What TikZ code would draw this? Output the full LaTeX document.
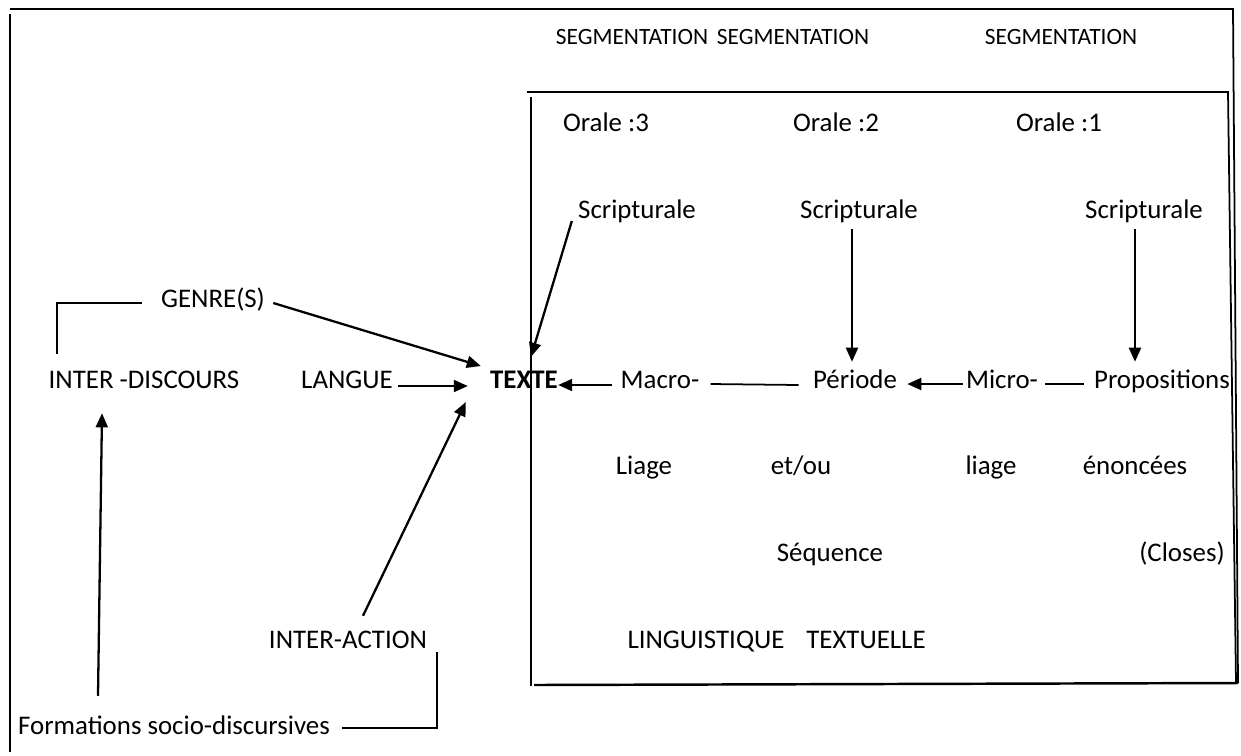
\documentclass[tikz,border=0pt]{standalone}
\usepackage{fontspec}
\setmainfont{Carlito}
\usetikzlibrary{arrows.meta}

\begin{document}
\begin{tikzpicture}[x=0.02cm, y=-0.02cm,
    lbl/.style={font=\fontsize{15.3}{18}\selectfont, inner sep=0pt, text height=0.7em, text depth=0.2em},
    seglbl/.style={lbl, font=\fontsize{13.3}{16}\selectfont},
    arr/.style={line width=1.3pt, -{Triangle[length=8pt,width=6.8pt]}},
    ln/.style={line width=1pt}]
    \useasboundingbox (0,0) rectangle (1241,755);
    \draw[ln] (10,9) -- (1233,9) -- (1238,683);
    \draw[ln] (10,14) -- (10,752);
    \draw[ln] (527,92) -- (1228,92) -- (1236,683);
    \draw[ln] (531,97) -- (531,686);
    \draw[ln, line width=1.4pt] (534,685) -- (1238,683);
    \node[seglbl] (seg1) at (632,40) {SEGMENTATION};
    \node[seglbl] (seg2) at (793,40) {SEGMENTATION};
    \node[seglbl] (seg3) at (1061,40) {SEGMENTATION};
    \node[lbl] (or3) at (606,127) {Orale :3};
    \node[lbl] (or2) at (836,127) {Orale :2};
    \node[lbl] (or1) at (1059,127) {Orale :1};
    \node[lbl] (sc3) at (637,214) {Scripturale};
    \node[lbl] (sc2) at (859,214) {Scripturale};
    \node[lbl] (sc1) at (1144,214) {Scripturale};
    \node[lbl] (genre) at (213,303) {GENRE(S)};
    \node[lbl] (interdisc) at (144,384) {INTER -DISCOURS};
    \node[lbl] (langue) at (347,384) {LANGUE};
    \node[lbl, font=\fontsize{15.3}{18}\selectfont\bfseries] (texte) at (524,384) {TEXTE};
    \node[lbl] (macro) at (660,384) {Macro-};
    \node[lbl] (periode) at (855,384) {Période};
    \node[lbl] (micro) at (1002,384) {Micro-};
    \node[lbl] (props) at (1162,384) {Propositions};
    \node[lbl] (liage) at (644,470) {Liage};
    \node[lbl] (etou) at (801,470) {et/ou};
    \node[lbl] (liage2) at (991,470) {liage};
    \node[lbl] (enonc) at (1135,470) {énoncées};
    \node[lbl] (seq) at (830,557) {Séquence};
    \node[lbl] (closes) at (1182,557) {(Closes)};
    \node[lbl] (interact) at (348,644) {INTER-ACTION};
    \node[lbl] (ling) at (706,644) {LINGUISTIQUE};
    \node[lbl] (textu) at (866,644) {TEXTUELLE};
    \node[lbl] (forma) at (174,730) {Formations socio-discursives};
    \draw[arr] ([shift={(8,0)}]genre.east) -- ([shift={(-9,-18)}]texte.west);
    \draw[arr] ([shift={(5,2)}]langue.east) -- ([shift={(-22,2)}]texte.west);
    \draw[arr] ([shift={(15,-20)}]interact.north) -- ([shift={(-24,18)}]texte.west);
    \draw[arr] ([shift={(-6,7)}]sc3.west) -- ([shift={(7,-19)}]texte.north);
    \draw[arr] ([shift={(-8,1)}]macro.west) -- ([shift={(0,1)}]texte.east);
    \draw[ln] ([shift={(11,0)}]macro.east) -- ([shift={(-14,1)}]periode.west);
    \draw[arr] ([shift={(-3,0)}]micro.west) -- ([shift={(10,0)}]periode.east);
    \draw[ln] ([shift={(7,0)}]micro.east) -- ([shift={(-10,0)}]props.west);
    \draw[arr] ([shift={(-7,7)}]sc2.south) -- ([shift={(-3,-14)}]periode.north);
    \draw[arr] ([shift={(-9,7)}]sc1.south) -- ([shift={(-27,-14)}]props.north);
    \draw[ln] ([shift={(-19,0)}]genre.west) -| ([shift={(-87,-22)}]interdisc.north);
    \draw[arr] ([shift={(-76,-26)}]forma.north) -- ([shift={(-42,21)}]interdisc.south);
    \draw[ln] ([shift={(12,-2)}]forma.east) -| ([shift={(10,8)}]interact.east);
\end{tikzpicture}
\end{document}
